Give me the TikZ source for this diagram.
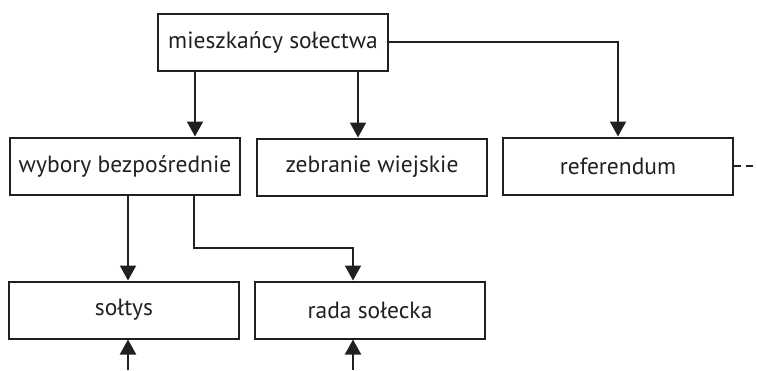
\documentclass[tikz,border=0pt]{standalone}
\usepackage{fontspec}
\setmainfont{PT Sans}
\usetikzlibrary{arrows.meta}

\definecolor{LineColor}{HTML}{231F20}

\begin{document}
\begin{tikzpicture}[x=1pt,y=-1pt,
  box/.style={draw=LineColor,line width=2pt,minimum width=230pt,minimum height=57pt,
    inner sep=0pt,text=LineColor,font=\fontsize{23.5}{28}\selectfont},
  link/.style={draw=LineColor,line width=2pt},
  arr/.style={link,-{Triangle[width=16pt,length=15pt]}}]

  \useasboundingbox (0,0) rectangle (757,370);

  % ===== Bloki =====
  \node[box] (mieszkancy) at (273,42)  {mieszkańcy sołectwa};
  \node[box] (wybory)     at (125,166) {wybory bezpośrednie};
  \node[box] (zebranie)   at (372,167) {zebranie wiejskie};
  \node[box] (referendum) at (618,166) {referendum};
  \node[box] (soltys)     at (124,310) {sołtys};
  \node[box] (rada)       at (370,310) {rada sołecka};

  % ===== Punkty pomocnicze =====
  \coordinate (xWyb)  at (195,0);   % zejście do wyborów
  \coordinate (xZeb)  at (358,0);   % zejście do zebrania
  \coordinate (xSol)  at (128,0);
  \coordinate (xRad)  at (194,0);
  \coordinate (bend)  at (353,248);
  \coordinate (inSol) at (128,370); % wejście z dołu
  \coordinate (inRad) at (353,370);
  \coordinate (cut)   at (757,0);

  % ===== Połączenia =====
  \draw[arr] (mieszkancy.south -| xWyb) -- (wybory.north -| xWyb);
  \draw[arr] (mieszkancy.south -| xZeb) -- (zebranie.north -| xZeb);
  \draw[arr] (mieszkancy.east) -| (referendum.north);
  \draw[arr] (wybory.south -| xSol) -- (soltys.north -| xSol);
  \draw[arr] (wybory.south -| xRad) |- (bend) -- (rada.north -| bend);
  \draw[arr] (inSol) -- (soltys.south -| inSol);
  \draw[arr] (inRad) -- (rada.south -| inRad);
  \draw[link,dash pattern=on 7pt off 5pt] (referendum.east) -- (referendum.east -| cut);

\end{tikzpicture}
\end{document}
